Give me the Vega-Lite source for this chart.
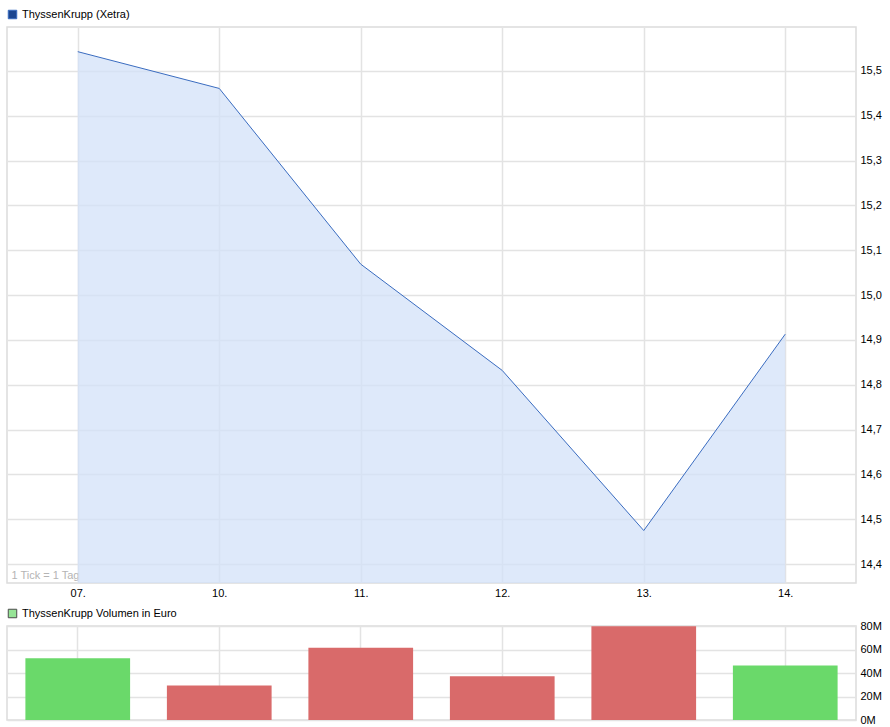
{
  "$schema": "https://vega.github.io/schema/vega-lite/v6.json",
  "padding": {"left": 6, "top": 8, "right": 0, "bottom": 0},
  "spacing": 8,
  "resolve": {"scale": {"color": "independent", "fill": "independent", "stroke": "independent"}, "legend": {"color": "independent", "fill": "independent", "stroke": "independent"}},
  "data": {"values": [
    {"tag": "07.", "kurs": 15.543, "volumen": 52500000, "richtung": "up"},
    {"tag": "10.", "kurs": 15.461, "volumen": 29300000, "richtung": "down"},
    {"tag": "11.", "kurs": 15.069, "volumen": 61500000, "richtung": "down"},
    {"tag": "12.", "kurs": 14.832, "volumen": 37300000, "richtung": "down"},
    {"tag": "13.", "kurs": 14.475, "volumen": 79800000, "richtung": "down"},
    {"tag": "14.", "kurs": 14.913, "volumen": 46300000, "richtung": "up"}
  ]},
  "config": {
    "font": "Liberation Sans",
    "view": {"stroke": "#dcdcdc", "strokeWidth": 1.5},
    "axis": {
      "gridColor": "#e3e3e3",
      "gridWidth": 1.5,
      "labelFont": "Liberation Sans",
      "labelFontSize": 11,
      "labelColor": "#000",
      "labelOverlap": false,
      "ticks": false,
      "domain": false
    },
    "legend": {
      "labelFont": "Liberation Sans",
      "labelFontSize": 11,
      "labelColor": "#000",
      "padding": 0
    }
  },
  "vconcat": [
    {
      "width": 849,
      "height": 556,
      "encoding": {
        "x": {
          "field": "tag",
          "type": "ordinal",
          "sort": null,
          "scale": {"type": "point", "padding": 0.5},
          "axis": {
            "labelAngle": 0,
            "labelPadding": 4,
            "grid": true,
            "title": "1 Tick = 1 Tag",
            "titleX": 4,
            "titleY": -3,
            "titleAlign": "left",
            "titleAnchor": "start",
            "titleBaseline": "bottom",
            "titleColor": "#b4b4b4",
            "titleFontWeight": "normal",
            "titleFontSize": 11,
            "titleFont": "Liberation Sans"
          }
        },
        "y": {
          "field": "kurs",
          "type": "quantitative",
          "scale": {"domain": [14.358, 15.598], "zero": false, "nice": false},
          "axis": {
            "orient": "right",
            "values": [14.4, 14.5, 14.6, 14.7, 14.8, 14.9, 15.0, 15.1, 15.2, 15.3, 15.4, 15.5],
            "labelExpr": "replace(format(datum.value, '.1f'), '.', ',')",
            "labelPadding": 4,
            "grid": true,
            "title": null
          }
        }
      },
      "layer": [
        {
          "mark": {"type": "area", "color": "#d3e2f8", "opacity": 0.75, "clip": true},
          "encoding": {"y2": {"datum": 14.358}}
        },
        {
          "mark": {"type": "line", "strokeWidth": 1},
          "encoding": {
            "stroke": {
              "datum": "ThyssenKrupp (Xetra)",
              "scale": {"range": ["#3a6cc0"]},
              "legend": {
                "orient": "none",
                "legendX": 0,
                "legendY": -18,
                "title": null,
                "symbolType": "square",
                "symbolSize": 72,
                "symbolFillColor": "#1c4690",
                "symbolStrokeColor": "#000",
                "symbolStrokeWidth": 1,
                "labelOffset": 4
              }
            }
          }
        }
      ]
    },
    {
      "width": 849,
      "height": 94,
      "encoding": {
        "x": {
          "field": "tag",
          "type": "ordinal",
          "sort": null,
          "scale": {"type": "band", "paddingInner": 0.26, "paddingOuter": 0.13},
          "axis": {"labels": false, "grid": true, "bandPosition": 0.5, "title": null}
        },
        "y": {
          "field": "volumen",
          "type": "quantitative",
          "scale": {"domain": [0, 80000000], "nice": false},
          "axis": {
            "orient": "right",
            "values": [0, 20000000, 40000000, 60000000, 80000000],
            "labelExpr": "format(datum.value / 1000000, 'd') + 'M'",
            "labelPadding": 4,
            "labelOverlap": false,
            "grid": true,
            "title": null
          }
        }
      },
      "layer": [
        {
          "mark": {"type": "bar"},
          "encoding": {
            "color": {
              "field": "richtung",
              "type": "nominal",
              "scale": {"domain": ["up", "down"], "range": ["#6ad96a", "#d96a6a"]},
              "legend": null
            }
          }
        },
        {
          "mark": {"type": "point", "filled": true, "size": 0},
          "encoding": {
            "fill": {
              "datum": "ThyssenKrupp Volumen in Euro",
              "scale": {"range": ["#6ad96a"]},
              "legend": {
                "orient": "none",
                "legendX": 0,
                "legendY": -18,
                "title": null,
                "symbolType": "square",
                "symbolSize": 72,
                "symbolFillColor": "#6ad96a",
                "symbolStrokeColor": "#000",
                "symbolStrokeWidth": 1,
                "labelOffset": 4
              }
            }
          }
        }
      ]
    }
  ]
}
